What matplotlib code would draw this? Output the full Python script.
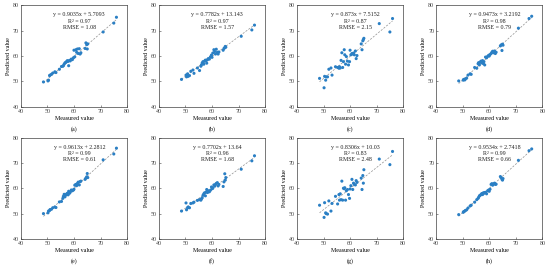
import matplotlib
matplotlib.use("Agg")
import matplotlib.pyplot as plt
import numpy as np

plt.rcParams['font.family'] = ['Liberation Serif', 'DejaVu Serif']

# measured values (shared by all panels)
measured = [48.5, 50.2, 50.4, 50.8, 51.0, 51.5, 52.0, 52.8, 53.2, 54.5, 55.3, 55.8, 56.0, 56.3,
            56.6, 56.9, 57.2, 57.5, 57.8, 58.0, 58.3, 58.6, 59.0, 59.4, 59.8, 60.0, 60.3, 60.7,
            61.0, 61.3, 61.6, 62.0, 62.3, 62.6, 64.2, 64.5, 64.8, 65.0, 65.2, 71.0, 75.0, 76.0]

pred_a = [49.8, 50.2, 50.5, 52.3, 52.5, 52.8, 53.3, 53.8, 53.5, 54.8, 55.9, 56.0, 56.2, 56.8,
          57.3, 57.5, 57.8, 58.2, 57.9, 56.2, 58.3, 58.1, 58.8, 58.6, 59.3, 62.3, 59.7, 62.5,
          61.5, 62.8, 61.0, 62.9, 60.8, 61.3, 63.0, 65.2, 64.5, 62.8, 64.8, 69.5, 73.0, 75.3]
pred_b = [50.8, 52.5, 51.8, 53.0, 52.0, 52.3, 54.0, 54.5, 53.2, 55.3, 54.3, 56.0, 56.5, 57.3,
          57.8, 56.8, 58.0, 58.4, 58.2, 57.2, 58.6, 59.0, 58.8, 59.7, 60.4, 59.5, 61.2, 62.5,
          61.8, 60.8, 62.7, 61.5, 60.8, 61.6, 62.3, 63.0, 63.3, 63.8, 63.5, 67.8, 70.3, 72.2]
pred_c = [51.2, 47.5, 52.0, 50.5, 51.8, 51.8, 54.8, 55.3, 52.5, 55.8, 55.5, 55.2, 55.8, 55.3,
          58.3, 61.3, 55.5, 57.8, 62.5, 60.5, 56.8, 59.8, 58.0, 56.5, 57.8, 62.3, 60.5, 61.0,
          60.8, 61.2, 60.5, 62.0, 59.0, 60.2, 64.8, 62.5, 66.0, 66.5, 67.0, 72.8, 69.5, 74.8]
pred_d = [50.2, 50.5, 50.8, 50.6, 51.0, 51.3, 52.5, 53.0, 52.8, 55.5, 55.2, 57.0, 57.4, 56.5,
          57.6, 58.0, 57.3, 58.2, 57.0, 57.8, 56.5, 59.6, 59.3, 59.9, 60.3, 60.0, 60.6, 61.0,
          61.5, 61.9, 61.3, 62.0, 61.0, 61.5, 64.0, 64.4, 62.2, 64.7, 64.3, 71.0, 74.8, 75.7]
pred_e = [50.0, 50.3, 51.0, 51.2, 51.6, 51.7, 52.3, 52.6, 52.4, 54.6, 54.8, 56.0, 56.8, 57.6,
          56.6, 57.3, 57.7, 58.0, 57.4, 58.8, 58.0, 58.4, 59.3, 59.0, 59.3, 59.6, 61.2, 61.5,
          61.0, 61.9, 62.4, 61.3, 62.6, 62.8, 63.5, 64.0, 64.5, 65.8, 64.2, 71.2, 73.5, 75.8]
pred_f = [51.0, 54.2, 51.5, 52.3, 52.6, 52.3, 54.0, 54.2, 54.5, 55.2, 55.5, 55.3, 55.8, 56.2,
          57.2, 57.8, 58.2, 57.0, 58.5, 59.5, 58.3, 59.0, 58.6, 59.2, 60.5, 59.8, 60.0, 61.3,
          60.8, 61.5, 61.9, 62.2, 60.9, 61.5, 60.7, 62.5, 65.7, 63.2, 64.2, 67.5, 70.8, 72.8]
pred_g = [53.3, 48.5, 54.3, 50.3, 50.0, 49.8, 55.0, 51.0, 54.0, 56.8, 53.8, 57.5, 55.3, 57.8,
          55.5, 62.8, 55.3, 60.0, 59.8, 60.2, 55.3, 59.0, 59.5, 57.5, 56.0, 59.7, 61.0, 63.5,
          59.5, 62.0, 61.5, 61.3, 63.0, 62.3, 64.0, 59.5, 65.0, 62.0, 67.3, 71.5, 69.3, 74.5]
pred_h = [49.6, 50.5, 50.8, 51.0, 51.2, 51.5, 52.2, 53.0, 53.3, 54.5, 55.5, 56.0, 56.4, 57.0,
          57.2, 57.5, 57.9, 57.5, 58.2, 58.0, 58.3, 58.4, 57.8, 59.0, 59.3, 58.8, 59.6, 61.5,
          61.8, 61.2, 61.7, 62.0, 61.5, 61.6, 64.6, 64.2, 63.5, 63.2, 63.8, 71.0, 74.8, 75.5]

predicted = [pred_a, pred_b, pred_c, pred_d, pred_e, pred_f, pred_g, pred_h]
slopes = [0.9035, 0.7782, 0.873, 0.9473, 0.9613, 0.7702, 0.8306, 0.9534]
intercepts = [5.7093, 13.143, 7.5152, 3.2192, 2.2812, 13.64, 10.03, 2.7418]
eq_labels = ["y = 0.9035x + 5.7093", "y = 0.7782x + 13.143", "y = 0.873x + 7.5152",
             "y = 0.9473x + 3.2192", "y = 0.9613x + 2.2812", "y = 0.7702x + 13.64",
             "y = 0.8306x + 10.03", "y = 0.9534x + 2.7418"]
r2_labels = ["0.97", "0.97", "0.87", "0.98", "0.99", "0.96", "0.83", "0.99"]
rmse_labels = ["1.08", "1.57", "2.15", "0.79", "0.61", "1.68", "2.48", "0.66"]
panel_labels = ["(a)", "(b)", "(c)", "(d)", "(e)", "(f)", "(g)", "(h)"]

fig = plt.figure(figsize=(5.5, 2.67), dpi=100)

lefts = [0.038, 0.289, 0.540, 0.793]
bottoms = [0.600, 0.105]
W, H = 0.193, 0.380
fs = 4.3

x = np.array(measured)
for i in range(8):
    row, col = divmod(i, 4)
    ax = fig.add_axes([lefts[col], bottoms[row], W, H])
    xx = np.array([x.min(), x.max()])
    ax.plot(xx, slopes[i] * xx + intercepts[i], ls=(0, (3, 2)), color='#909090', lw=0.5, zorder=1)
    ax.scatter(x, predicted[i], s=5, color='#2a7fc4', edgecolors='none', zorder=2)
    ax.set_xlim(40, 80)
    ax.set_ylim(40, 80)
    ax.set_xticks([40, 50, 60, 70, 80])
    ax.set_yticks([40, 50, 60, 70, 80])
    ax.tick_params(direction='in', length=1.5, width=0.4, labelsize=fs, pad=1.5,
                   colors='#404040')
    for s in ax.spines.values():
        s.set_linewidth(0.5)
        s.set_color('#404040')
    ax.set_xlabel("Measured value", fontsize=fs, labelpad=1.5)
    ax.set_ylabel("Predicted value", fontsize=fs, labelpad=1.5)
    txt = eq_labels[i] + "\nR² = " + r2_labels[i] + "\nRMSE = " + rmse_labels[i]
    ax.text(0.55, 0.93, txt, transform=ax.transAxes, ha='center', va='top',
            fontsize=fs, linespacing=1.3, color='#222222')
    ax.text(0.5, -0.19, panel_labels[i], transform=ax.transAxes, ha='center', va='top',
            fontsize=fs)

fig.savefig("out.png", dpi=100)
